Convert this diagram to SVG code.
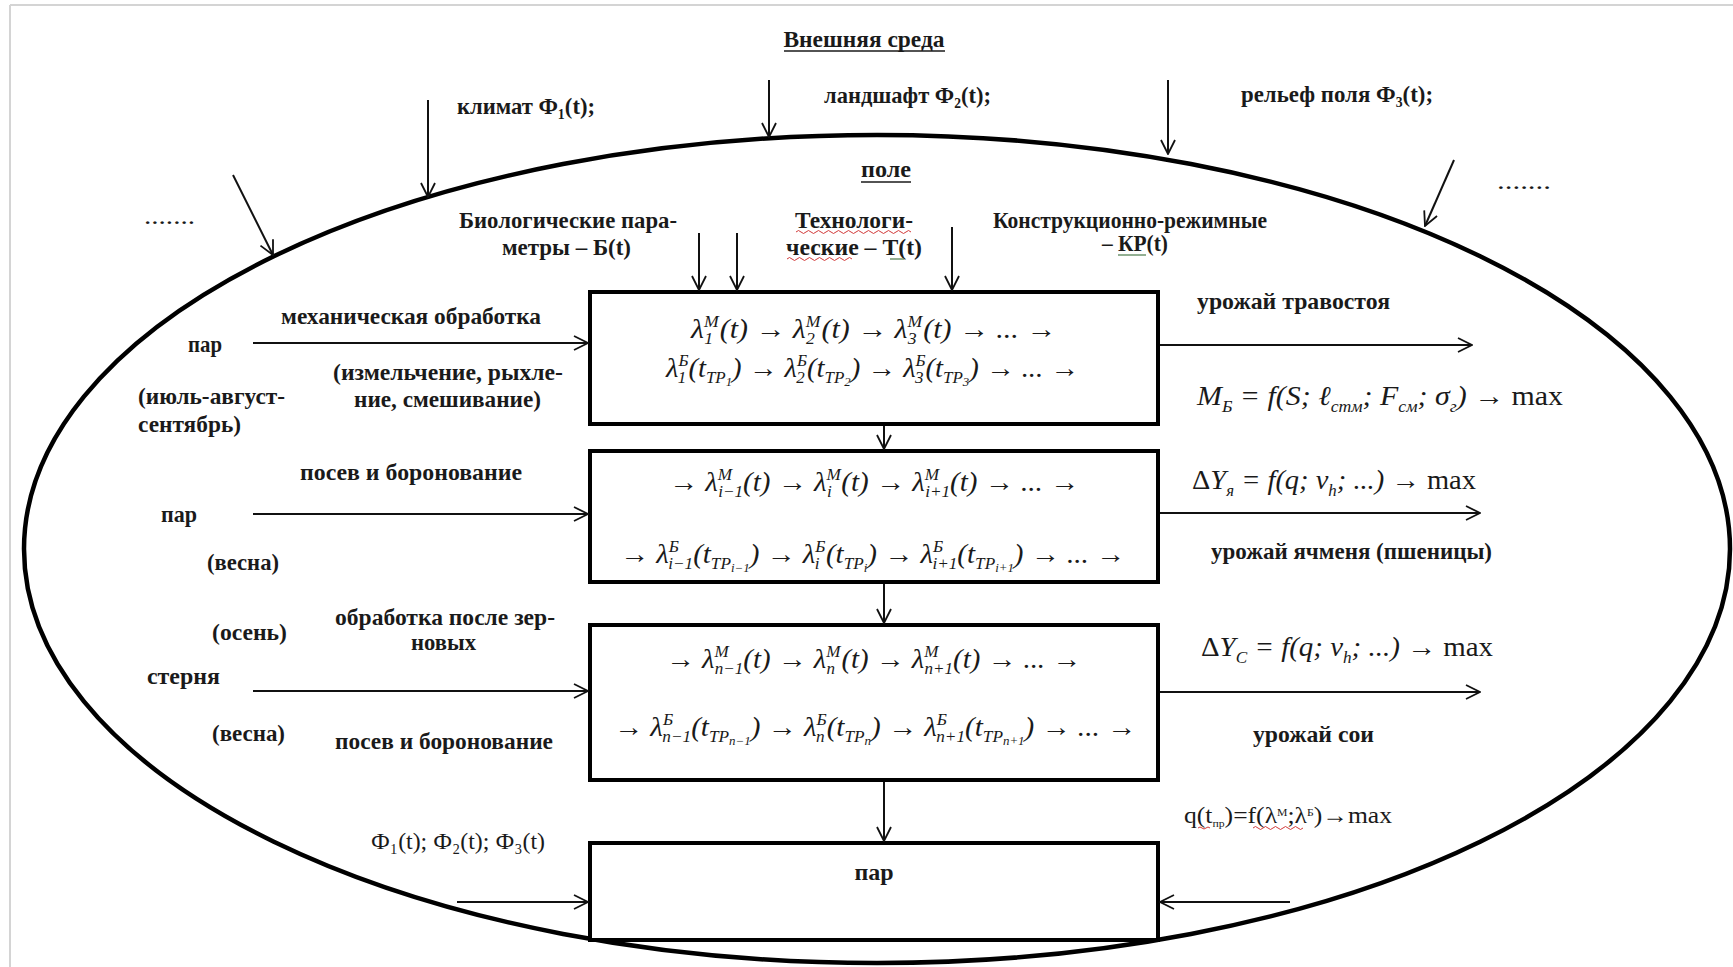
<svg xmlns="http://www.w3.org/2000/svg" width="1733" height="967" viewBox="0 0 1733 967">
<defs>
<style>
.t{font-family:"Liberation Serif","DejaVu Serif",serif;font-size:24px;font-weight:bold;fill:#1a1a1a}
.n{font-weight:normal}
.c{text-anchor:middle}
.m{font-family:"Liberation Serif","DejaVu Serif",serif;font-style:italic;font-size:27px;fill:#1a1a1a}
.u{font-style:normal}
.s{font-size:16px}
.ss{font-size:12px}
.box{fill:#fff;stroke:#000;stroke-width:4}
.ln{stroke:#111;stroke-width:2;fill:none}
.ul{stroke:#1a1a1a;stroke-width:1.6}
.sp{stroke:#d23a3a;stroke-width:1;fill:none}
.gr{stroke:#4a7a4a;stroke-width:1.2}
</style>
<marker id="ah" viewBox="0 0 16 16" refX="15" refY="8" markerWidth="16" markerHeight="16" markerUnits="userSpaceOnUse" orient="auto">
<path d="M1,1 L15,8 L1,15" fill="none" stroke="#111" stroke-width="1.8"/>
</marker>
</defs>
<rect width="1733" height="967" fill="#fff"/>
<g id="frame">
<line x1="10" y1="5" x2="1733" y2="5" stroke="#d4d4d4" stroke-width="2"/>
<line x1="10" y1="5" x2="10" y2="967" stroke="#d4d4d4" stroke-width="2"/>
</g>
<g id="field-ellipse">
<ellipse cx="877" cy="549" rx="853" ry="414" fill="none" stroke="#000" stroke-width="4.5"/>
</g>
<g id="title">
<text class="t c" x="864" y="47" textLength="161" lengthAdjust="spacingAndGlyphs">Внешняя среда</text>
<line class="ul" x1="784" y1="51" x2="945" y2="51"/>
</g>
<g id="climate">
<text class="t" x="457" y="114" textLength="138" lengthAdjust="spacingAndGlyphs">климат Ф₁(t);</text>
</g>
<g id="landscape">
<text class="t" x="824" y="103" textLength="167" lengthAdjust="spacingAndGlyphs">ландшафт Ф₂(t);</text>
</g>
<g id="relief">
<text class="t" x="1241" y="102" textLength="192" lengthAdjust="spacingAndGlyphs">рельеф поля Ф₃(t);</text>
</g>
<g id="dots-left"><text class="t n" x="144" y="224" textLength="51" lengthAdjust="spacingAndGlyphs">.......</text></g>
<g id="dots-right"><text class="t n" x="1497" y="189" textLength="54" lengthAdjust="spacingAndGlyphs">.......</text></g>
<g id="field-label">
<text class="t" x="861" y="177" textLength="50" lengthAdjust="spacingAndGlyphs">поле</text>
<line class="ul" x1="861" y1="182" x2="911" y2="182"/>
</g>
<g id="bio">
<text class="t" x="459" y="228" textLength="218" lengthAdjust="spacingAndGlyphs">Биологические пара-</text>
<text class="t" x="502" y="255" textLength="129" lengthAdjust="spacingAndGlyphs">метры – Б(t)</text>
</g>
<g id="tech">
<text class="t" x="795" y="228" textLength="118" lengthAdjust="spacingAndGlyphs">Технологи-</text>
<text class="t" x="786" y="255" textLength="136" lengthAdjust="spacingAndGlyphs">ческие – Т(t)</text>
<path class="sp" d="M796,232 q2.5,-3 5,0 t5,0 t5,0 t5,0 t5,0 t5,0 t5,0 t5,0 t5,0 t5,0 t5,0 t5,0 t5,0 t5,0 t5,0 t5,0 t5,0 t5,0 t5,0 t5,0 t5,0 t5,0 t5,0"/>
<path class="sp" d="M787,259 q2.5,-3 5,0 t5,0 t5,0 t5,0 t5,0 t5,0 t5,0 t5,0 t5,0 t5,0 t5,0 t5,0 t5,0"/>
<line class="gr" x1="890" y1="259" x2="904" y2="259"/>
</g>
<g id="constr">
<text class="t" x="993" y="228" textLength="274" lengthAdjust="spacingAndGlyphs">Конструкционно-режимные</text>
<text class="t" x="1102" y="251" textLength="66" lengthAdjust="spacingAndGlyphs">– КР(t)</text>
<line class="gr" x1="1118" y1="255" x2="1146" y2="255"/>
</g>
<g id="box1">
<rect class="box" x="590" y="292" width="568" height="132"/>
<text class="m" x="691" y="338" textLength="365" lengthAdjust="spacingAndGlyphs">λ<tspan class="s" dy="-11">M</tspan><tspan class="s" dx="-13" dy="17">1</tspan><tspan dx="6" dy="-6">(t) → λ</tspan><tspan class="s" dy="-11">M</tspan><tspan class="s" dx="-13" dy="17">2</tspan><tspan dx="6" dy="-6">(t) → λ</tspan><tspan class="s" dy="-11">M</tspan><tspan class="s" dx="-13" dy="17">3</tspan><tspan dx="6" dy="-6">(t) → ... →</tspan></text>
<text class="m" x="666" y="377" textLength="413" lengthAdjust="spacingAndGlyphs">λ<tspan class="s" dy="-11">Б</tspan><tspan class="s" dx="-10" dy="17">1</tspan><tspan dx="2" dy="-6">(t</tspan><tspan class="s" dy="6">ТР</tspan><tspan class="ss" dy="3">1</tspan><tspan dy="-9">) → λ</tspan><tspan class="s" dy="-11">Б</tspan><tspan class="s" dx="-10" dy="17">2</tspan><tspan dx="2" dy="-6">(t</tspan><tspan class="s" dy="6">ТР</tspan><tspan class="ss" dy="3">2</tspan><tspan dy="-9">) → λ</tspan><tspan class="s" dy="-11">Б</tspan><tspan class="s" dx="-10" dy="17">3</tspan><tspan dx="2" dy="-6">(t</tspan><tspan class="s" dy="6">ТР</tspan><tspan class="ss" dy="3">3</tspan><tspan dy="-9">) → ... →</tspan></text>
</g>
<g id="box2">
<rect class="box" x="590" y="451" width="568" height="131"/>
<text class="m" x="669" y="491" textLength="410" lengthAdjust="spacingAndGlyphs">→ λ<tspan class="s" dy="-11">M</tspan><tspan class="s" dx="-13" dy="17">i−1</tspan><tspan dy="-6">(t) → λ</tspan><tspan class="s" dy="-11">M</tspan><tspan class="s" dx="-13" dy="17">i</tspan><tspan dx="9" dy="-6">(t) → λ</tspan><tspan class="s" dy="-11">M</tspan><tspan class="s" dx="-13" dy="17">i+1</tspan><tspan dy="-6">(t) → ... →</tspan></text>
<text class="m" x="620" y="563" textLength="505" lengthAdjust="spacingAndGlyphs">→ λ<tspan class="s" dy="-11">Б</tspan><tspan class="s" dx="-10" dy="17">i−1</tspan><tspan dy="-6">(t</tspan><tspan class="s" dy="6">ТР</tspan><tspan class="ss" dy="3">i−1</tspan><tspan dy="-9">) → λ</tspan><tspan class="s" dy="-11">Б</tspan><tspan class="s" dx="-10" dy="17">i</tspan><tspan dx="6" dy="-6">(t</tspan><tspan class="s" dy="6">ТР</tspan><tspan class="ss" dy="3">i</tspan><tspan dy="-9">) → λ</tspan><tspan class="s" dy="-11">Б</tspan><tspan class="s" dx="-10" dy="17">i+1</tspan><tspan dy="-6">(t</tspan><tspan class="s" dy="6">ТР</tspan><tspan class="ss" dy="3">i+1</tspan><tspan dy="-9">) → ... →</tspan></text>
</g>
<g id="box3">
<rect class="box" x="590" y="625" width="568" height="155"/>
<text class="m" x="666" y="668" textLength="415" lengthAdjust="spacingAndGlyphs">→ λ<tspan class="s" dy="-11">M</tspan><tspan class="s" dx="-13" dy="17">n−1</tspan><tspan dy="-6">(t) → λ</tspan><tspan class="s" dy="-11">M</tspan><tspan class="s" dx="-13" dy="17">n</tspan><tspan dx="6" dy="-6">(t) → λ</tspan><tspan class="s" dy="-11">M</tspan><tspan class="s" dx="-13" dy="17">n+1</tspan><tspan dy="-6">(t) → ... →</tspan></text>
<text class="m" x="614" y="736" textLength="522" lengthAdjust="spacingAndGlyphs">→ λ<tspan class="s" dy="-11">Б</tspan><tspan class="s" dx="-10" dy="17">n−1</tspan><tspan dy="-6">(t</tspan><tspan class="s" dy="6">ТР</tspan><tspan class="ss" dy="3">n−1</tspan><tspan dy="-9">) → λ</tspan><tspan class="s" dy="-11">Б</tspan><tspan class="s" dx="-10" dy="17">n</tspan><tspan dx="2" dy="-6">(t</tspan><tspan class="s" dy="6">ТР</tspan><tspan class="ss" dy="3">n</tspan><tspan dy="-9">) → λ</tspan><tspan class="s" dy="-11">Б</tspan><tspan class="s" dx="-10" dy="17">n+1</tspan><tspan dy="-6">(t</tspan><tspan class="s" dy="6">ТР</tspan><tspan class="ss" dy="3">n+1</tspan><tspan dy="-9">) → ... →</tspan></text>
</g>
<g id="box4">
<rect class="box" x="590" y="843" width="568" height="97"/>
<text class="t c" x="874" y="880" font-size="22">пар</text>
</g>
<g id="row1-left">
<text class="t" x="188" y="352" textLength="34" lengthAdjust="spacingAndGlyphs">пар</text>
<text class="t" x="138" y="404" textLength="147" lengthAdjust="spacingAndGlyphs">(июль-август-</text>
<text class="t" x="138" y="432" textLength="103" lengthAdjust="spacingAndGlyphs">сентябрь)</text>
<text class="t" x="281" y="324" textLength="260" lengthAdjust="spacingAndGlyphs">механическая обработка</text>
<text class="t" x="333" y="380" textLength="230" lengthAdjust="spacingAndGlyphs">(измельчение, рыхле-</text>
<text class="t" x="354" y="407" textLength="187" lengthAdjust="spacingAndGlyphs">ние, смешивание)</text>
</g>
<g id="row2-left">
<text class="t" x="300" y="480" textLength="222" lengthAdjust="spacingAndGlyphs">посев и боронование</text>
<text class="t" x="161" y="522" textLength="36" lengthAdjust="spacingAndGlyphs">пар</text>
<text class="t" x="207" y="570" textLength="72" lengthAdjust="spacingAndGlyphs">(весна)</text>
</g>
<g id="row3-left">
<text class="t" x="212" y="640" textLength="75" lengthAdjust="spacingAndGlyphs">(осень)</text>
<text class="t" x="335" y="625" textLength="220" lengthAdjust="spacingAndGlyphs">обработка после зер-</text>
<text class="t" x="411" y="650" textLength="65" lengthAdjust="spacingAndGlyphs">новых</text>
<text class="t" x="147" y="684" textLength="73" lengthAdjust="spacingAndGlyphs">стерня</text>
<text class="t" x="212" y="741" textLength="73" lengthAdjust="spacingAndGlyphs">(весна)</text>
<text class="t" x="335" y="749" textLength="218" lengthAdjust="spacingAndGlyphs">посев и боронование</text>
</g>
<g id="row4-left">
<text class="t n" x="371" y="849" textLength="174" lengthAdjust="spacingAndGlyphs">Ф₁(t); Ф₂(t); Ф₃(t)</text>
</g>
<g id="row1-right">
<text class="t" x="1197" y="309" textLength="193" lengthAdjust="spacingAndGlyphs">урожай травостоя</text>
<text class="m" x="1197" y="405" font-size="29" textLength="366" lengthAdjust="spacingAndGlyphs">M<tspan class="s" font-size="17" dy="7">Б</tspan><tspan dy="-7"> = f(S; ℓ</tspan><tspan class="s" dy="7">стм</tspan><tspan dy="-7">; F</tspan><tspan class="s" dy="7">см</tspan><tspan dy="-7">; σ</tspan><tspan class="s" dy="7">г</tspan><tspan dy="-7">) → </tspan><tspan class="u">max</tspan></text>
</g>
<g id="row2-right">
<text class="m" x="1192" y="489" font-size="28" textLength="284" lengthAdjust="spacingAndGlyphs"><tspan class="u">Δ</tspan>Y<tspan class="s" dy="7">я</tspan><tspan dy="-7"> = f(q; ν</tspan><tspan class="s" dy="7">h</tspan><tspan dy="-7">; ...) → </tspan><tspan class="u">max</tspan></text>
<text class="t" x="1211" y="559" textLength="281" lengthAdjust="spacingAndGlyphs">урожай ячменя (пшеницы)</text>
</g>
<g id="row3-right">
<text class="m" x="1201" y="656" font-size="28" textLength="292" lengthAdjust="spacingAndGlyphs"><tspan class="u">Δ</tspan>Y<tspan class="s" dy="7">С</tspan><tspan dy="-7"> = f(q; ν</tspan><tspan class="s" dy="7">h</tspan><tspan dy="-7">; ...) → </tspan><tspan class="u">max</tspan></text>
<text class="t" x="1253" y="742" textLength="121" lengthAdjust="spacingAndGlyphs">урожай сои</text>
</g>
<g id="row4-right">
<text class="t n" x="1184" y="823" font-size="19" textLength="208" lengthAdjust="spacingAndGlyphs">q(t<tspan font-size="11" dy="4">пр</tspan><tspan dy="-4">)=f(λ</tspan><tspan font-size="11" dy="-7">M</tspan><tspan dy="7">;λ</tspan><tspan font-size="11" dy="-7">Б</tspan><tspan dy="7">)→max</tspan></text>
<path class="sp" d="M1253,828 q2.5,-3 5,0 t5,0 t5,0 t5,0 t5,0 t5,0 t5,0 t5,0 t5,0 t5,0"/>
<path class="sp" d="M1198,828 q2,-2 4,0 t4,0 t4,0"/>
</g>
<g id="connectors">
<line class="ln" x1="428" y1="100" x2="428" y2="197" marker-end="url(#ah)"/>
<line class="ln" x1="769" y1="80" x2="769" y2="137" marker-end="url(#ah)"/>
<line class="ln" x1="1168" y1="80" x2="1168" y2="154" marker-end="url(#ah)"/>
<line class="ln" x1="233" y1="175" x2="273" y2="255" marker-end="url(#ah)"/>
<line class="ln" x1="1454" y1="160" x2="1425" y2="226" marker-end="url(#ah)"/>
<line class="ln" x1="699" y1="233" x2="699" y2="290" marker-end="url(#ah)"/>
<line class="ln" x1="737" y1="233" x2="737" y2="290" marker-end="url(#ah)"/>
<line class="ln" x1="952" y1="227" x2="952" y2="290" marker-end="url(#ah)"/>
<line class="ln" x1="253" y1="343" x2="588" y2="343" marker-end="url(#ah)"/>
<line class="ln" x1="253" y1="514" x2="588" y2="514" marker-end="url(#ah)"/>
<line class="ln" x1="253" y1="691" x2="588" y2="691" marker-end="url(#ah)"/>
<line class="ln" x1="457" y1="902" x2="588" y2="902" marker-end="url(#ah)"/>
<line class="ln" x1="1290" y1="902" x2="1160" y2="902" marker-end="url(#ah)"/>
<line class="ln" x1="1160" y1="345" x2="1472" y2="345" marker-end="url(#ah)"/>
<line class="ln" x1="1160" y1="513" x2="1480" y2="513" marker-end="url(#ah)"/>
<line class="ln" x1="1160" y1="692" x2="1480" y2="692" marker-end="url(#ah)"/>
<line class="ln" x1="884" y1="426" x2="884" y2="449" marker-end="url(#ah)"/>
<line class="ln" x1="884" y1="584" x2="884" y2="623" marker-end="url(#ah)"/>
<line class="ln" x1="884" y1="782" x2="884" y2="841" marker-end="url(#ah)"/>
</g>
</svg>
